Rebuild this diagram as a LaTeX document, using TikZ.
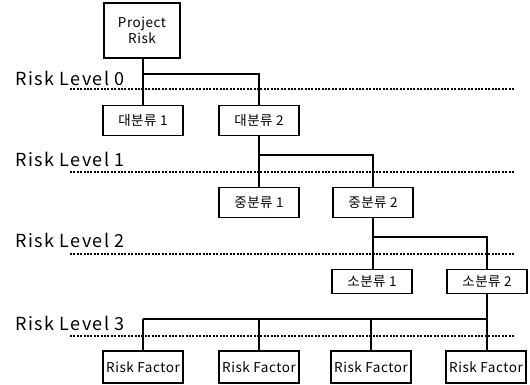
\documentclass[tikz,border=0pt]{standalone}
\usepackage{fontspec}
\setmainfont{Noto Sans CJK KR}
\newfontfamily\widefont[LetterSpace=8]{Noto Sans CJK KR}
\newfontfamily\boxfont[LetterSpace=4]{Noto Sans CJK KR}
\usetikzlibrary{positioning}

\begin{document}
\begin{tikzpicture}[x=1pt,y=-1pt,
	box/.style={draw,line width=1.3pt,minimum width=80pt,minimum height=30pt,inner sep=1pt,font=\boxfont\fontsize{13.5}{16}\selectfont},
	bus/.style={line width=2pt},
	lvl/.style={line width=2pt,dash pattern=on 2pt off 1.4pt},
	lvltext/.style={anchor=base west,inner sep=0pt,font=\widefont\fontsize{18}{20}\selectfont}]
	\useasboundingbox (0,0) rectangle (530,385);
	\node[box,minimum width=76pt,minimum height=55pt,align=center] (proj) at (142,30.5) {Project\\Risk};
	\node[box] (d1) at (143,120.5) {대분류 1};\node[box] (d2) at (259,120.5) {대분류 2};
	\node[box] (m1) at (259,202.5) {중분류 1};\node[box] (m2) at (373,202.5) {중분류 2};
	\node[box,minimum height=24pt] (s1) at (372,281.5) {소분류 1};\node[box,minimum height=24pt] (s2) at (487,281.5) {소분류 2};
	\node[box,minimum height=32pt] (f1) at (143,367) {Risk Factor};\node[box,minimum height=32pt] (f2) at (259,367) {Risk Factor};
	\node[box,minimum height=32pt] (f3) at (371,367) {Risk Factor};\node[box,minimum height=32pt] (f4) at (486,367) {Risk Factor};
	\node[lvltext] (l0) at (15,86) {Risk Level 0};\draw[lvl] (70,89)--(514,89);
	\node[lvltext] (l1) at (15,167) {Risk Level 1};\draw[lvl] (70,172)--(514,172);
	\node[lvltext] (l2) at (15,247) {Risk Level 2};\draw[lvl] (70,254)--(514,254);
	\node[lvltext] (l3) at (15,330) {Risk Level 3};\draw[lvl] (70,336)--(514,336);
	\coordinate (b0) at (0,74);\coordinate (b1) at (0,155);\coordinate (b2) at (0,237);\coordinate (b3) at (0,319);
	\draw[bus] (proj.south -| d1.north)--(d1.north);\draw[bus] (d1.north |- b0)-|(d2.north);
	\draw[bus] (d2.south)--(m1.north);\draw[bus] (m1.north |- b1)-|(m2.north);
	\draw[bus] (m2.south)--(m2.south |- s1.north);\draw[bus] (m2.south |- b2)-|(s2.north);
	\draw[bus] (s2.south)--(s2.south |- f4.north);\draw[bus] (f1.north |- b3)--(s2.south |- b3);
	\draw[bus] (f1.north |- b3)--(f1.north);\draw[bus] (f2.north |- b3)--(f2.north);\draw[bus] (f3.north |- b3)--(f3.north);
\end{tikzpicture}
\end{document}
